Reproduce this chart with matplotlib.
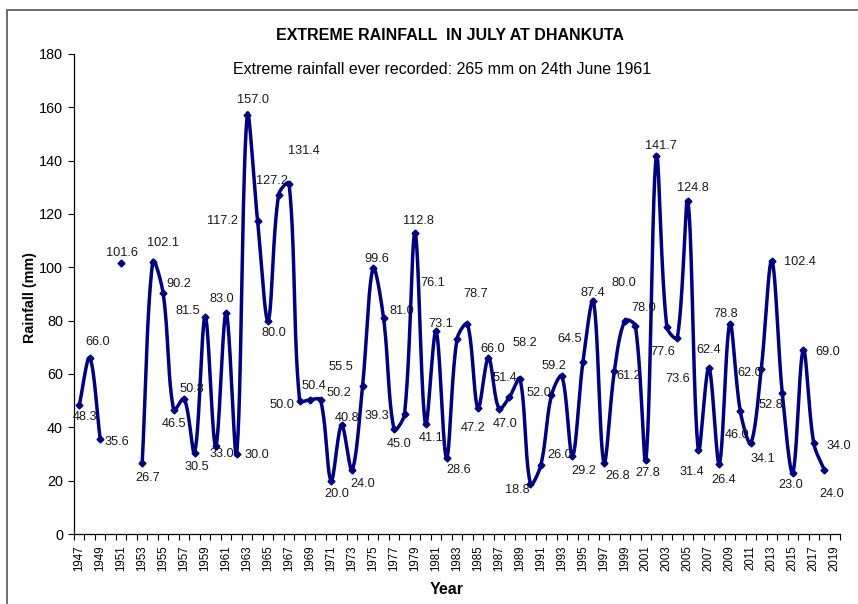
import numpy as np
import matplotlib
matplotlib.use("Agg")
import matplotlib.pyplot as plt
from matplotlib.patches import Rectangle

plt.rcParams['font.family'] = ['Liberation Sans', 'DejaVu Sans']

# July extreme rainfall (mm), nan = no record
years = list(range(1947, 2020))
rain = [48.3, 66.0, 35.6, np.nan, 101.6, np.nan, 26.7, 102.1, 90.2, 46.5,
        50.8, 30.5, 81.5, 33.0, 83.0, 30.0, 157.0, 117.2, 80.0, 127.2,
        131.4, 50.0, 50.4, 50.2, 20.0, 40.8, 24.0, 55.5, 99.6, 81.0,
        39.3, 45.0, 112.8, 41.1, 76.1, 28.6, 73.1, 78.7, 47.2, 66.0,
        47.0, 51.4, 58.2, 18.8, 26.0, 52.0, 59.2, 29.2, 64.5, 87.4,
        26.8, 61.2, 80.0, 78.0, 27.8, 141.7, 77.6, 73.6, 124.8, 31.4,
        62.4, 26.4, 78.8, 46.0, 34.1, 62.0, 102.4, 52.8, 23.0, 69.0,
        34.0, 24.0, np.nan]

# label offsets in pixels (dx right, dy down), one per year with data
label_off = {
    1947: (6, 12), 1948: (8, -16), 1949: (17, 3), 1951: (1, -10),
    1953: (6, 15), 1954: (10, -19), 1955: (16, -9), 1956: (0, 14),
    1957: (8, -10), 1958: (2, 14), 1959: (-17, -6), 1960: (6, 8),
    1961: (-4, -14), 1962: (20, 1), 1963: (6, -15), 1964: (-35, 0),
    1965: (6, 12), 1966: (-7, -14), 1967: (15, -33), 1968: (-18, 4),
    1969: (4, -14), 1970: (18, -7), 1971: (6, 13), 1972: (5, -7),
    1973: (11, 14), 1974: (-22, -19), 1975: (4, -9), 1976: (18, -7),
    1977: (-17, -13), 1978: (-5, 30), 1979: (3, -12), 1980: (6, 14),
    1981: (-3, -48), 1982: (12, 12), 1983: (-16, -15), 1984: (8, -30),
    1985: (-5, 20), 1986: (4, -9), 1987: (6, 15), 1988: (-5, -19),
    1989: (5, -36), 1990: (-13, 6), 1991: (19, -10), 1992: (-12, -2),
    1993: (-8, -10), 1994: (11, 15), 1995: (-13, -23), 1996: (-1, -8),
    1997: (14, 13), 1998: (14, 5), 1999: (-1, -38), 2000: (8, -18),
    2001: (2, 13), 2002: (5, -10), 2003: (-4, 25), 2004: (0, 41),
    2005: (5, -13), 2006: (-6, 22), 2007: (0, -18), 2008: (4, 16),
    2009: (-4, -10), 2010: (-3, 24), 2011: (12, 16), 2012: (-12, 4),
    2013: (28, 1), 2014: (-11, 12), 2015: (-2, 12), 2016: (24, 2),
    2017: (25, 3), 2018: (7, 24),
}

navy = '#000080'


def smooth(pts, n=30):
    # spreadsheet-style smoothed line: cubic Bezier per segment, control
    # arms scaled by neighbouring segment lengths (done in screen space)
    p = np.asarray(pts, dtype=float)
    if len(p) < 2:
        return p
    t = np.linspace(0, 1, n)[:, None]
    out = []
    f = 1.0 / 3.0
    for i in range(len(p) - 1):
        p1, p2 = p[i], p[i + 1]
        p0 = p[i - 1] if i > 0 else p1
        p3 = p[i + 2] if i + 2 < len(p) else p2
        d01 = np.hypot(*(p1 - p0))
        d12 = np.hypot(*(p2 - p1))
        d23 = np.hypot(*(p3 - p2))
        c1 = p1 + (p2 - p0) * f * d12 / (d01 + d12)
        c2 = p2 - (p3 - p1) * f * d12 / (d12 + d23)
        seg = ((1 - t) ** 3) * p1 + 3 * ((1 - t) ** 2) * t * c1 + 3 * (1 - t) * t ** 2 * c2 + t ** 3 * p2
        out.append(seg if i == 0 else seg[1:])
    return np.vstack(out)


fig = plt.figure(figsize=(8.58, 6.04), dpi=100)
ax = fig.add_axes([74 / 858, 1 - 534 / 604, 766 / 858, 480 / 604])
ax.set_xlim(0, len(years))
ax.set_ylim(0, 180)

xpos = np.arange(len(years)) + 0.5
vals = np.array(rain)

# split into runs of consecutive data
runs = []
cur = []
for x, v in zip(xpos, vals):
    if np.isnan(v):
        if cur:
            runs.append(cur)
        cur = []
    else:
        cur.append((x, v))
if cur:
    runs.append(cur)

tr = ax.transData
for r in runs:
    r = np.array(r)
    curve = tr.inverted().transform(smooth(tr.transform(r)))
    ax.plot(curve[:, 0], curve[:, 1], color=navy, lw=2.5, solid_capstyle='round', zorder=2)
    ax.plot(r[:, 0], r[:, 1], 'D', color=navy, ms=3.5, zorder=3)

for yr, x, v in zip(years, xpos, vals):
    if np.isnan(v):
        continue
    dx, dy = label_off[yr]
    ax.annotate(f"{v:.1f}", (x, v), xytext=(dx, -dy), textcoords='offset pixels',
                ha='center', va='center', fontsize=9.2, color='#1a1a1a')

ax.set_yticks(range(0, 181, 20))
ax.set_xticks(xpos[::2])
ax.set_xticklabels([str(y) for y in years[::2]], rotation=90, fontsize=8.3)
ax.set_xticks(np.arange(0, len(years) + 1), minor=True)
ax.tick_params(axis='x', which='major', length=0, pad=8)
ax.tick_params(axis='x', which='minor', length=4, width=0.8, direction='out')
ax.tick_params(axis='y', length=4, width=0.8, direction='out', labelsize=10.4, pad=4)
for s in ['top', 'right']:
    ax.spines[s].set_visible(False)
for s in ['left', 'bottom']:
    ax.spines[s].set_linewidth(0.9)

fig.text(30 / 858, 1 - 298 / 604, 'Rainfall (mm)', ha='center', va='center',
         rotation=90, fontsize=10.3, fontweight='bold')
fig.text(447 / 858, 1 - 589 / 604, 'Year', ha='center', va='center',
         fontsize=11.5, fontweight='bold')

fig.text(450 / 858, 1 - 35 / 604, 'EXTREME RAINFALL  IN JULY AT DHANKUTA',
         ha='center', va='center', fontsize=11.5, fontweight='bold')
fig.text(442 / 858, 1 - 69 / 604, 'Extreme rainfall ever recorded: 265 mm on 24th June 1961',
         ha='center', va='center', fontsize=11.5)

# chart border
fig.patches.append(Rectangle((7 / 858, -0.1), 1.2, (1 - 10 / 604) + 0.1,
                             transform=fig.transFigure, fill=False,
                             edgecolor='#555555', lw=1.2))

fig.savefig('out.png', dpi=100)
